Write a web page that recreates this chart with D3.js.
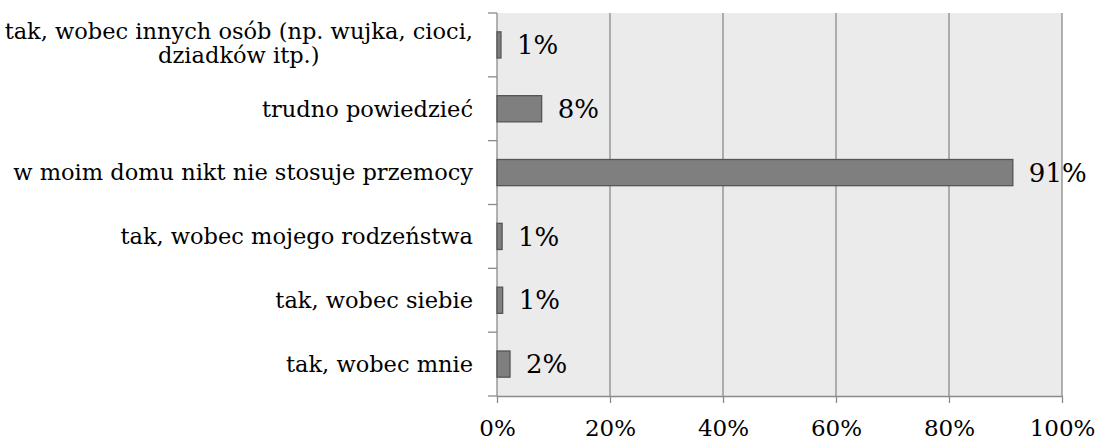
<!DOCTYPE html>
<html>
<head>
<meta charset="utf-8">
<script src="https://cdn.jsdelivr.net/npm/d3@7"></script>
<style>
  html, body { margin: 0; padding: 0; background: #fff; }
  svg text { font-family: "DejaVu Serif", serif; fill: #000; }
</style>
</head>
<body>
<div id="chart"></div>
<script>
// answers, top to bottom as drawn
const categories = [
  "tak, wobec innych osób (np. wujka, cioci,|dziadków itp.)",
  "trudno powiedzieć",
  "w moim domu nikt nie stosuje przemocy",
  "tak, wobec mojego rodzeństwa",
  "tak, wobec siebie",
  "tak, wobec mnie"
];
const values = [0.7, 7.9, 91.3, 0.9, 1.0, 2.3];
const valueLabels = ["1%", "8%", "91%", "1%", "1%", "2%"];
const xTicks = [0, 20, 40, 60, 80, 100];

const width = 1099;
const height = 441;
const margin = { top: 13, right: 37, bottom: 45, left: 497 };
const innerW = width - margin.left - margin.right;
const innerH = height - margin.top - margin.bottom;

const svg = d3.select("#chart")
  .append("svg")
  .attr("width", width)
  .attr("height", height);

const g = svg.append("g")
  .attr("transform", `translate(${margin.left},${margin.top})`);

const x = d3.scaleLinear().domain([0, 100]).range([0, innerW]);
const y = d3.scaleBand().domain(categories).range([0, innerH]).paddingInner(0.59).paddingOuter(0.295);

// plot background
g.append("rect")
  .attr("width", innerW)
  .attr("height", innerH)
  .attr("fill", "#ebebeb");

// vertical grid
g.selectAll(".grid")
  .data(xTicks.slice(1))
  .enter()
  .append("line")
  .attr("x1", d => x(d))
  .attr("x2", d => x(d))
  .attr("y1", 0)
  .attr("y2", innerH)
  .attr("stroke", "#8a8a8a")
  .attr("stroke-width", 1.3);

// bottom axis
const xAxis = g.append("g")
  .attr("transform", `translate(0,${innerH})`)
  .call(d3.axisBottom(x).tickValues(xTicks).tickFormat(d => d + "%").tickSizeInner(7).tickSizeOuter(0).tickPadding(17));
xAxis.select(".domain").attr("stroke", "#8a8a8a").attr("stroke-width", 1.3);
xAxis.selectAll(".tick line").attr("stroke", "#8a8a8a").attr("stroke-width", 1.3);
xAxis.selectAll(".tick text")
  .style("font-family", "DejaVu Serif, serif")
  .style("font-size", "23px")
  .attr("fill", "#000");

// left axis: ticks at band boundaries
const step = innerH / categories.length;
const boundaries = d3.range(categories.length + 1).map(i => i * step);
g.append("line")
  .attr("x1", 0).attr("x2", 0)
  .attr("y1", 0).attr("y2", innerH)
  .attr("stroke", "#8a8a8a")
  .attr("stroke-width", 1.3);
g.selectAll(".ytick")
  .data(boundaries)
  .enter()
  .append("line")
  .attr("x1", -9).attr("x2", 0)
  .attr("y1", d => d).attr("y2", d => d)
  .attr("stroke", "#8a8a8a")
  .attr("stroke-width", 1.3);

// category labels
const labelX = -24;
categories.forEach(c => {
  const lines = c.split("|");
  const cy = y(c) + y.bandwidth() / 2 - (lines.length > 1 ? 2 : 0);
  const lh = 24;
  const t = g.append("text")
    .attr("text-anchor", "end")
    .style("font-size", "22.5px");
  lines.forEach((ln, i) => {
    t.append("tspan")
      .attr("x", labelX)
      .attr("y", cy + (i - (lines.length - 1) / 2) * lh)
      .attr("dy", "0.35em")
      .text(ln);
  });
  if (lines.length > 1) {
    // center the wrapped lines on the block
    const w = t.node().getBBox().width;
    t.attr("text-anchor", "middle");
    t.selectAll("tspan").attr("x", labelX - w / 2);
  }
});

// bars
g.selectAll(".bar")
  .data(values)
  .enter()
  .append("rect")
  .attr("x", 0)
  .attr("y", (d, i) => y(categories[i]))
  .attr("width", d => x(d))
  .attr("height", y.bandwidth())
  .attr("fill", "#7f7f7f")
  .attr("stroke", "#555")
  .attr("stroke-width", 1.3);

// value labels
g.selectAll(".val")
  .data(values)
  .enter()
  .append("text")
  .attr("x", d => x(d) + 16)
  .attr("y", (d, i) => y(categories[i]) + y.bandwidth() / 2)
  .attr("dy", "0.35em")
  .style("font-size", "26px")
  .text((d, i) => valueLabels[i]);
</script>
</body>
</html>
